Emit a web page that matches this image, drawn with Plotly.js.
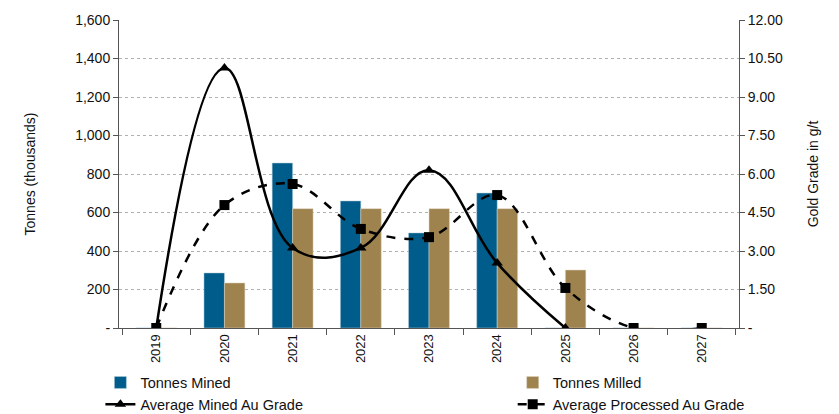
<!DOCTYPE html>
<html>
<head>
<meta charset="utf-8">
<script src="https://cdn.plot.ly/plotly-3.0.1.min.js"></script>
<style>html,body{margin:0;padding:0;background:#fff;}#chart{width:839px;height:414px;}</style>
</head>
<body>
<div id="chart"></div>
<script>
const years = ['2019','2020','2021','2022','2023','2024','2025','2026','2027'];
const tonnesMined = [0, 286, 857, 660, 494, 701, 0, 0, 0];
const tonnesMilled = [0, 234, 620, 620, 620, 620, 301, 0, 0];
const minedGrade = [0, 10.13, 3.12, 3.12, 6.15, 2.53, 0, null, null];
const processedGrade = [0, 4.79, 5.61, 3.86, 3.54, 5.18, 1.56, 0, 0];
const leftTickVals = [0, 200, 400, 600, 800, 1000, 1200, 1400, 1600];
const leftTickText = ['-', '200', '400', '600', '800', '1,000', '1,200', '1,400', '1,600'];
const rightTickVals = [0, 1.5, 3, 4.5, 6, 7.5, 9, 10.5, 12];
const rightTickText = ['-', '1.50', '3.00', '4.50', '6.00', '7.50', '9.00', '10.50', '12.00'];

const fontFam = 'Liberation Sans, Arial, sans-serif';
const traces = [
  {type:'bar', name:'Tonnes Mined', x:years, y:tonnesMined, legend:'legend',
   marker:{color:'#005C8A', line:{color:'#b8cfdc', width:0.5}}},
  {type:'bar', name:'Tonnes Milled', x:years, y:tonnesMilled, legend:'legend2',
   marker:{color:'#9E834F', line:{color:'#e0d6c0', width:0.5}}},
  {type:'scatter', mode:'lines+markers', name:'Average Mined Au Grade', x:years, y:minedGrade, yaxis:'y2', legend:'legend',
   line:{color:'#000', width:2.5, shape:'spline', smoothing:1.15}, marker:{symbol:'triangle-up', size:10, color:'#000'}},
  {type:'scatter', mode:'lines+markers', name:'Average Processed Au Grade', x:years, y:processedGrade, yaxis:'y2', legend:'legend2',
   line:{color:'#000', width:2.5, dash:'dash', shape:'spline', smoothing:1}, marker:{symbol:'square', size:10, color:'#000'}}
];

const legFont = {family:fontFam, size:14.5, color:'#111'};
const layout = {
  width:839, height:414,
  margin:{l:119, r:100, t:20, b:86, autoexpand:false},
  paper_bgcolor:'#fff', plot_bgcolor:'#fff',
  font:{family:fontFam, size:14, color:'#111'},
  barmode:'group', bargap:0.4, bargroupgap:0,
  showlegend:true,
  legend:{orientation:'v', x:-0.03, xanchor:'left', y:-0.125, yanchor:'top', font:legFont, tracegroupgap:0, traceorder:'normal', bgcolor:'rgba(0,0,0,0)'},
  legend2:{orientation:'v', x:0.635, xanchor:'left', y:-0.125, yanchor:'top', font:legFont, tracegroupgap:0, traceorder:'normal', bgcolor:'rgba(0,0,0,0)'},
  xaxis:{type:'category', tickangle:-90, tickson:'boundaries', ticks:'outside', ticklen:6, tickcolor:'#555',
         showline:true, linecolor:'#555', linewidth:1, showgrid:false, tickfont:{size:13}, zeroline:false, automargin:false},
  yaxis:{range:[0,1600], tickvals:leftTickVals, ticktext:leftTickText, ticks:'outside', ticklen:5, tickcolor:'#555',
         showline:true, linecolor:'#555', linewidth:1, showgrid:true, gridcolor:'#b0b0b0', griddash:'dot', gridwidth:1,
         zeroline:false, tickfont:{size:14}, automargin:false, title:{text:'Tonnes (thousands)', font:{size:14}, standoff:36}},
  yaxis2:{overlaying:'y', side:'right', range:[0,12], tickvals:rightTickVals, ticktext:rightTickText, ticks:'outside', ticklen:5,
          tickcolor:'#555', showline:true, linecolor:'#555', linewidth:1, showgrid:false, zeroline:false, tickfont:{size:14},
          automargin:false, title:{text:'Gold Grade in g/t', font:{size:14}, standoff:26}}
};
Plotly.newPlot('chart', traces, layout, {staticPlot:true});
</script>
</body>
</html>
